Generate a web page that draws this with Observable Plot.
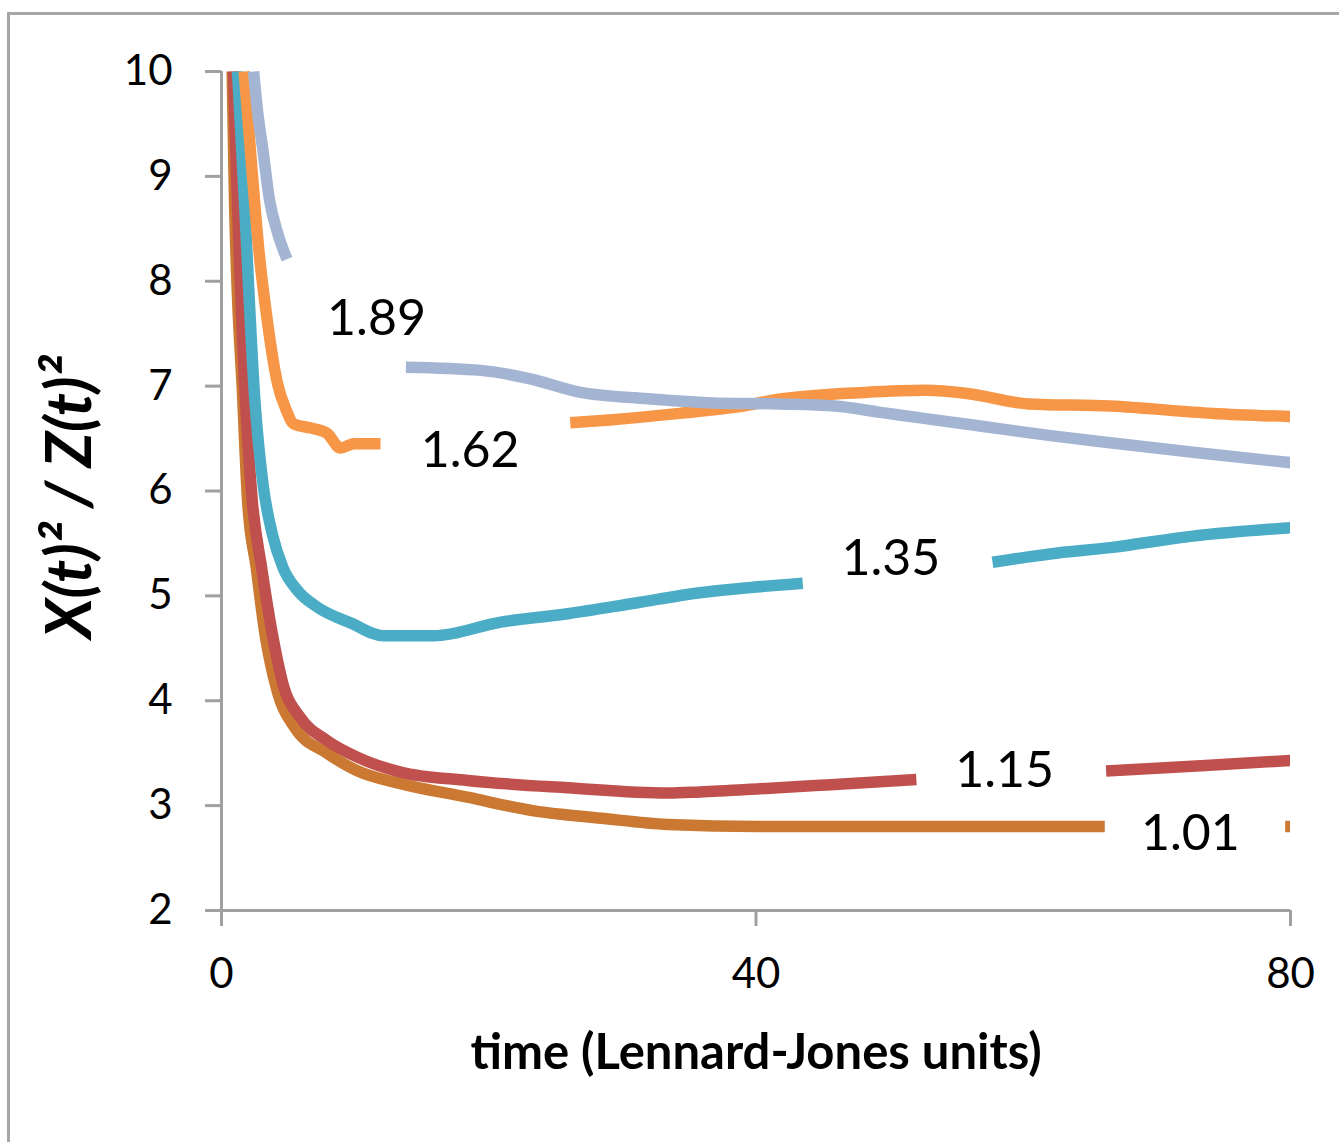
<!DOCTYPE html>
<html>
<head>
<meta charset="utf-8">
<script src="https://cdn.jsdelivr.net/npm/d3@7"></script>
<script src="https://cdn.jsdelivr.net/npm/@observablehq/plot@0.6"></script>
<style>
  html, body { margin: 0; padding: 0; background: #fff; overflow: hidden; }
  #wrap { position: relative; width: 1339px; height: 1142px; overflow: hidden; }
  #wrap svg { position: absolute; left: 0; top: 0; }
  #frame { position: absolute; left: 7px; top: 12px; width: 1400px; height: 1200px;
           border-top: 3px solid #A6A6A6; border-left: 3px solid #A6A6A6;
           pointer-events: none; z-index: 2; }
</style>
</head>
<body>
<div id="wrap"></div>
<script>
// ---- data (null = gap hidden behind a label) ----
const seriesNames = ["1.01", "1.15", "1.35", "1.62", "1.89"];
const seriesColors = ["#CB7832", "#C0504D", "#4BACC6", "#F79646", "#A4B5D3"];

const t101 = [0.8, 0.95, 1.6, 1.95, 2.6, 3.25, 4.15, 5.5, 7.9, 10.2, 13.4, 18.4, 23.4, 28.4, 33.4, 40.3, 50.8, 66.1, 70, 79.6, 80];
const v101 = [10, 8.93, 6.86, 5.91, 5.27, 4.64, 4.10, 3.74, 3.50, 3.33, 3.21, 3.08, 2.95, 2.88, 2.82, 2.80, 2.80, 2.80, null, 2.80, 2.80];

const t115 = [0.9, 1.15, 1.8, 2.3, 3.0, 3.8, 4.6, 5.9, 7.9, 10.2, 13.4, 18.4, 25.9, 33.4, 35.8, 40.3, 45.6, 52.0, 60, 66.2, 73.3, 80];
const v115 = [10, 8.93, 6.86, 5.91, 5.27, 4.64, 4.16, 3.84, 3.62, 3.46, 3.32, 3.24, 3.17, 3.12, 3.13, 3.16, 3.20, 3.25, null, 3.33, 3.38, 3.43];

const t135 = [1.2, 1.65, 2.5, 3.1, 3.8, 4.6, 5.7, 7.2, 9.7, 12.1, 15.9, 20.9, 25.9, 30.9, 35.8, 38.8, 43.5, 50, 57.7, 62, 66.5, 72.7, 80];
const v135 = [10, 8.93, 6.86, 6.07, 5.59, 5.27, 5.05, 4.89, 4.74, 4.62, 4.62, 4.75, 4.83, 4.93, 5.03, 5.07, 5.12, null, 5.32, 5.40, 5.46, 5.57, 5.65];

const t162 = [1.7, 2.3, 2.8, 3.4, 4.2, 4.85, 5.4, 6.7, 7.9, 8.9, 9.9, 11.9, 18, 26.1, 29.3, 34.3, 38.5, 42, 48.1, 52.7, 55.8, 60.4, 66.5, 74.2, 80];
const v162 = [10, 9.03, 8.29, 7.65, 7.02, 6.77, 6.64, 6.60, 6.55, 6.41, 6.45, 6.45, null, 6.65, 6.68, 6.74, 6.80, 6.88, 6.94, 6.96, 6.93, 6.83, 6.81, 6.74, 6.71];

const t189 = [2.4, 2.7, 3.1, 3.6, 4.2, 4.9, 9, 13.8, 19.4, 23.1, 26.9, 31.9, 36.8, 41.8, 45.9, 49.3, 52.7, 57.3, 61.9, 66.5, 72.7, 80];
const v189 = [10, 9.62, 9.25, 8.77, 8.46, 8.21, null, 7.18, 7.15, 7.07, 6.94, 6.88, 6.84, 6.83, 6.81, 6.75, 6.69, 6.61, 6.53, 6.46, 6.37, 6.27];

const labelText = ["1.89", "1.62", "1.35", "1.15", "1.01"];
const labelT = [11.6, 18.6, 50.1, 58.6, 72.5];
const labelV = [7.64, 6.38, 5.35, 3.33, 2.73];

const xTicks = [0, 40, 80];
const yTicks = [2, 3, 4, 5, 6, 7, 8, 9, 10];
const xTitle = "time (Lennard-Jones units)";
const yTitle = "X(t)² / Z(t)²";

// ---- build table ----
const allT = [t101, t115, t135, t162, t189];
const allV = [v101, v115, v135, v162, v189];
const rows = seriesNames.flatMap((s, i) => allT[i].map((t, j) => ({series: s, t, v: allV[i][j]})));
const labels = labelText.map((s, i) => ({s, t: labelT[i], v: labelV[i]}));

const axisColor = "#A0A0A0";
const font = "Lato, 'Open Sans', sans-serif";

const chart = Plot.plot({
  width: 1339,
  height: 1142,
  marginLeft: 221,
  marginRight: 49,
  marginTop: 71,
  marginBottom: 232,
  style: {fontFamily: font, color: "black", background: "white", overflow: "visible"},
  x: {domain: [0, 80]},
  y: {domain: [2, 10]},
  color: {domain: seriesNames, range: seriesColors},
  marks: [
    Plot.ruleY([2], {stroke: axisColor, strokeWidth: 3}),
    Plot.ruleX([0], {stroke: axisColor, strokeWidth: 3}),
    Plot.axisY({ticks: yTicks, tickSize: 16, tickPadding: 33, stroke: axisColor, strokeWidth: 3,
                fill: "black", fontSize: 42, label: null, tickFormat: d => String(d)}),
    Plot.axisX({ticks: xTicks, tickSize: 16, tickPadding: 32, stroke: axisColor, strokeWidth: 3,
                fill: "black", fontSize: 42, label: null, tickFormat: d => String(d)}),
    Plot.line(rows, {x: "t", y: "v", z: "series", stroke: "series", strokeWidth: 11.5,
                     strokeLinecap: "butt", strokeLinejoin: "round", curve: "monotone-x", clip: true}),
    Plot.text(labels, {x: "t", y: "v", text: "s", fontSize: 50, fill: "black"}),
    Plot.text([xTitle], {frameAnchor: "bottom", textAnchor: "middle", lineAnchor: "middle", dy: 143,
                         fontSize: 49, fontWeight: "bold", fill: "black"}),
    Plot.text([yTitle], {frameAnchor: "left", textAnchor: "middle", lineAnchor: "middle", dx: -151, dy: 6,
                         rotate: -90, fontSize: 63, fontWeight: "bold", fontStyle: "italic", fill: "black"})
  ]
});

const wrap = document.getElementById("wrap");
wrap.appendChild(chart);
const frame = document.createElement("div");
frame.id = "frame";
wrap.appendChild(frame);
</script>
</body>
</html>
